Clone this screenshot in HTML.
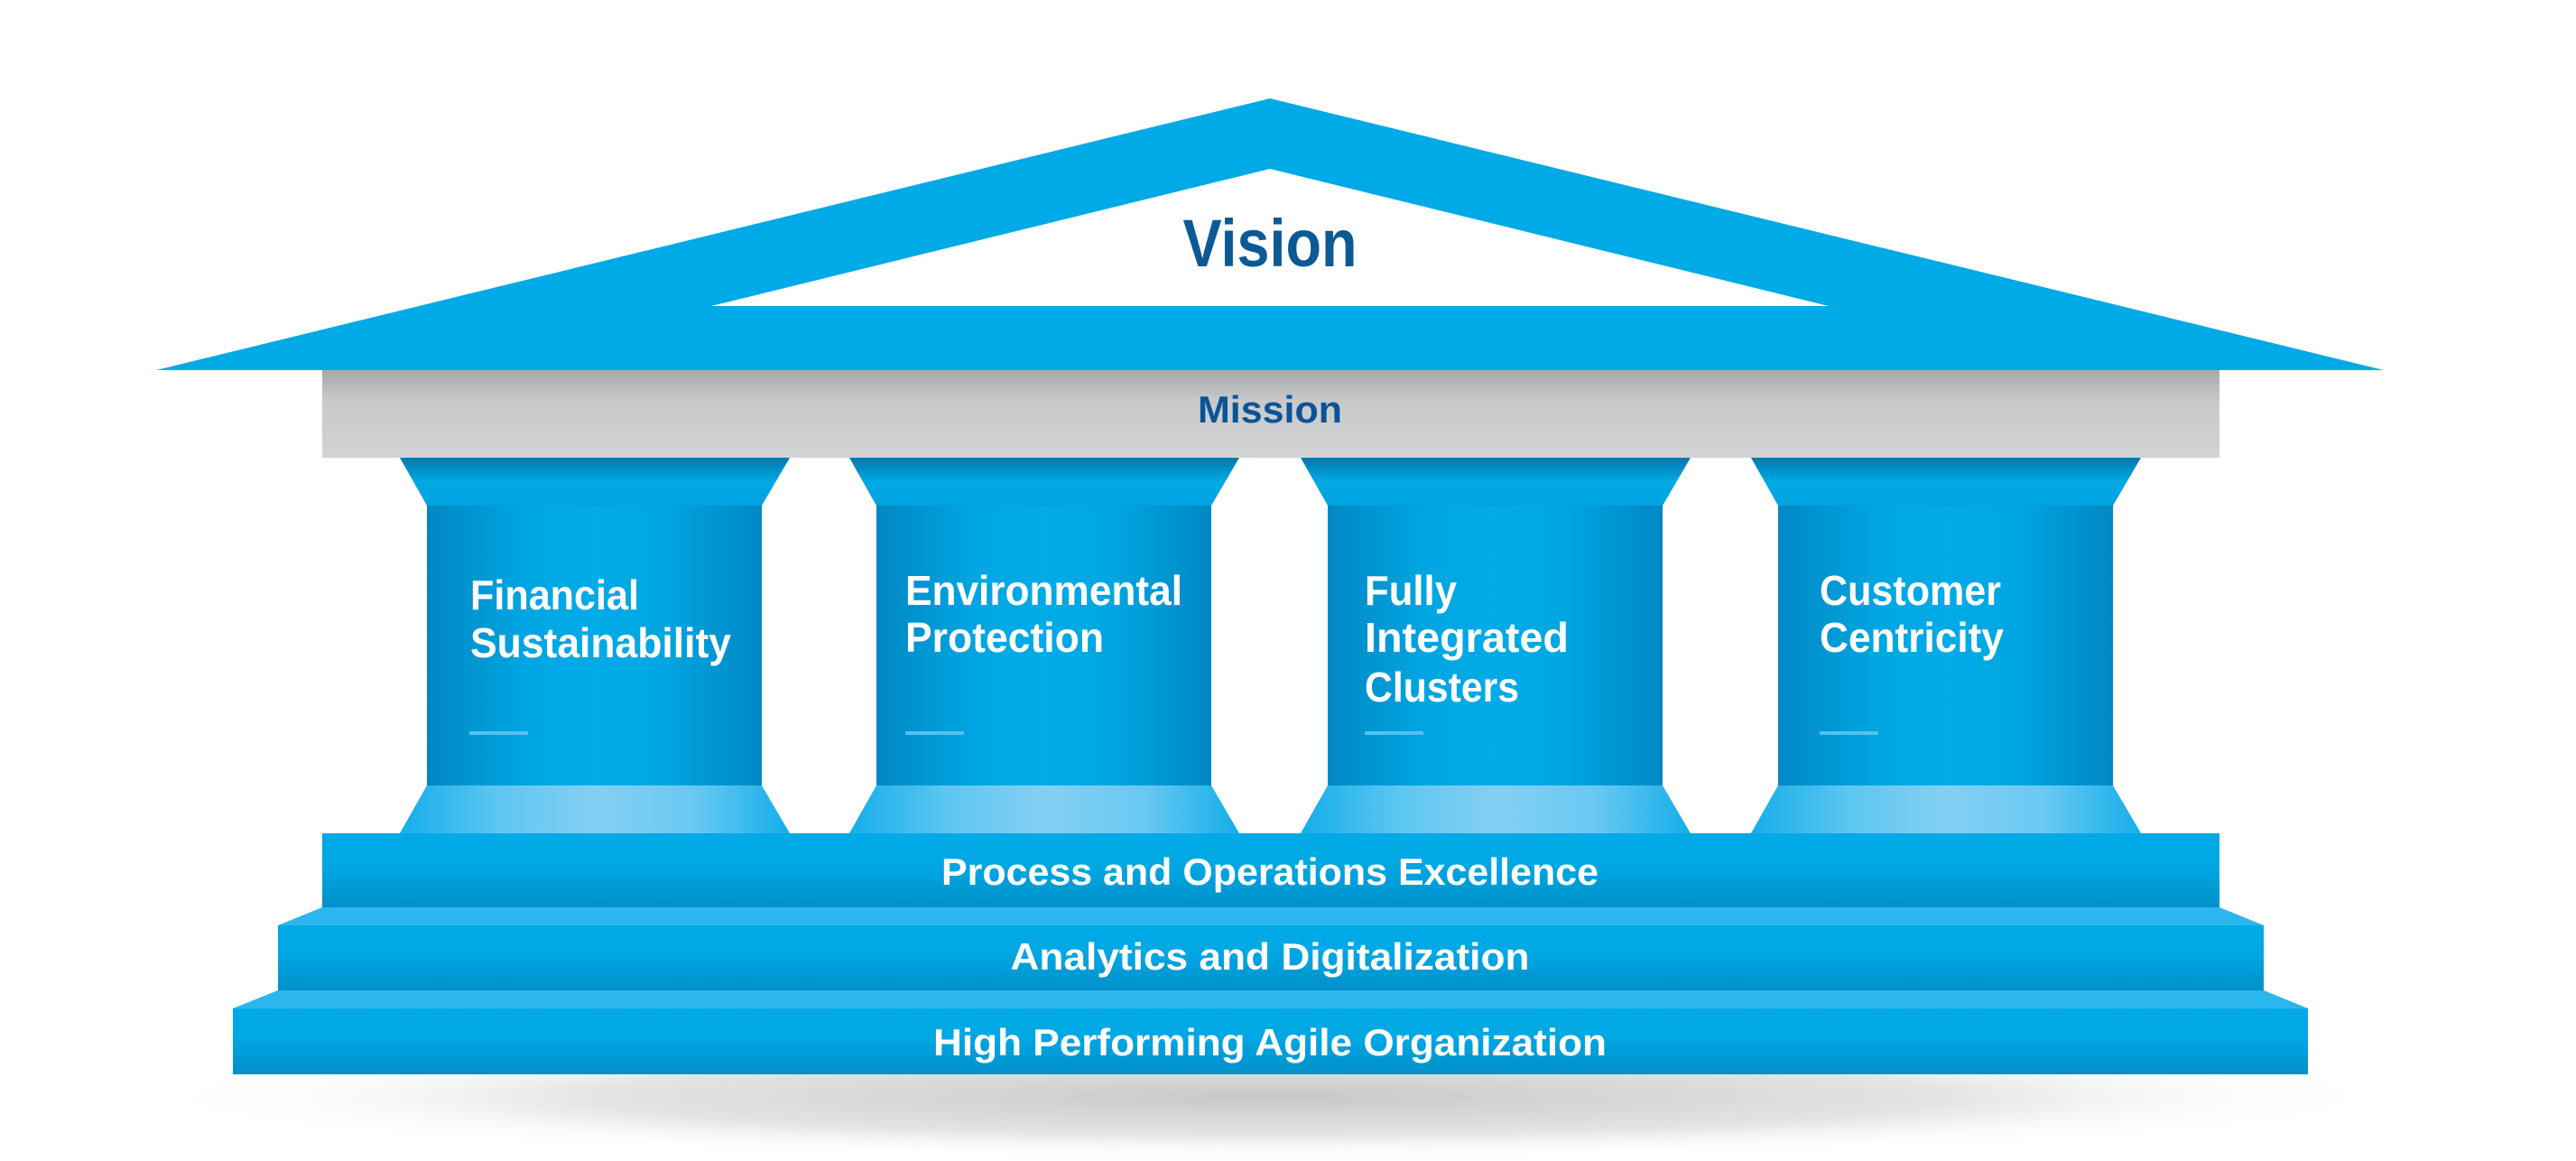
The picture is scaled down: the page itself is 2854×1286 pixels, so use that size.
<!DOCTYPE html>
<html><head><meta charset="utf-8"><style>
html,body{margin:0;padding:0;background:#fff;}
svg{display:block;}
text{font-family:"Liberation Sans",sans-serif;font-weight:bold;}
</style></head><body>
<svg width="2854" height="1286" viewBox="0 0 2854 1286" xmlns="http://www.w3.org/2000/svg">
<defs>
<linearGradient id="shaft" x1="0" x2="1" y1="0" y2="0">
<stop offset="0" stop-color="#0088c4"/><stop offset="0.3" stop-color="#00a6e2"/><stop offset="0.5" stop-color="#00abe7"/><stop offset="0.7" stop-color="#00a6e2"/><stop offset="1" stop-color="#0088c4"/>
</linearGradient>
<linearGradient id="cap" x1="0" x2="0" y1="0" y2="1">
<stop offset="0" stop-color="#0078ac"/><stop offset="0.5" stop-color="#00a8e4"/><stop offset="1" stop-color="#00a3df"/>
</linearGradient>
<linearGradient id="base" x1="0" x2="1" y1="0" y2="0">
<stop offset="0" stop-color="#14aee9"/><stop offset="0.25" stop-color="#5cc6f1"/><stop offset="0.5" stop-color="#85cff3"/><stop offset="0.75" stop-color="#6ac9f2"/><stop offset="1" stop-color="#14aee9"/>
</linearGradient>
<linearGradient id="mission" x1="0" x2="0" y1="0" y2="1">
<stop offset="0" stop-color="#a7a8aa"/><stop offset="0.35" stop-color="#c8c9cb"/><stop offset="1" stop-color="#d2d3d5"/>
</linearGradient>
<linearGradient id="step" x1="0" x2="0" y1="0" y2="1">
<stop offset="0" stop-color="#00aae6"/><stop offset="0.45" stop-color="#00a7e3"/><stop offset="1" stop-color="#008fc9"/>
</linearGradient>
<radialGradient id="shadow" cx="0.5" cy="0.5" r="0.5">
<stop offset="0" stop-color="#c8c8c8"/><stop offset="0.6" stop-color="#e4e4e4"/><stop offset="1" stop-color="#ffffff" stop-opacity="0"/>
</radialGradient>
</defs>

<!-- shadow -->
<ellipse cx="1407" cy="1215" rx="1250" ry="70" fill="url(#shadow)"/>

<!-- roof -->
<polygon points="173,410 1407,109 2641,410" fill="#00aae6"/>
<polygon points="788,339 1407,187 2026,339" fill="#ffffff"/>
<text x="1407" y="295" font-size="74" fill="#0b5a96" text-anchor="middle" textLength="193" lengthAdjust="spacingAndGlyphs">Vision</text>

<!-- mission -->
<rect x="357" y="410" width="2102" height="97" fill="url(#mission)"/>
<text x="1407" y="468" font-size="42" fill="#0b5394" text-anchor="middle" textLength="160" lengthAdjust="spacingAndGlyphs">Mission</text>

<!-- columns -->
<g id="col1">
<polygon points="443,507 875,507 844,560 473,560" fill="url(#cap)"/>
<rect x="473" y="560" width="371" height="310" fill="url(#shaft)"/>
<polygon points="473,870 844,870 875,923 443,923" fill="url(#base)"/>
</g>
<use href="#col1" x="498"/>
<use href="#col1" x="998"/>
<use href="#col1" x="1497"/>

<g fill="#ffffff" font-size="46">
<text x="521" y="675" textLength="187" lengthAdjust="spacingAndGlyphs">Financial</text>
<text x="521" y="728" textLength="289" lengthAdjust="spacingAndGlyphs">Sustainability</text>
<text x="1003" y="670" textLength="307" lengthAdjust="spacingAndGlyphs">Environmental</text>
<text x="1003" y="722" textLength="220" lengthAdjust="spacingAndGlyphs">Protection</text>
<text x="1512" y="670" textLength="102" lengthAdjust="spacingAndGlyphs">Fully</text>
<text x="1512" y="722" textLength="226" lengthAdjust="spacingAndGlyphs">Integrated</text>
<text x="1512" y="777" textLength="171" lengthAdjust="spacingAndGlyphs">Clusters</text>
<text x="2016" y="670" textLength="201" lengthAdjust="spacingAndGlyphs">Customer</text>
<text x="2016" y="722" textLength="204" lengthAdjust="spacingAndGlyphs">Centricity</text>
</g>
<g fill="#4fc3f0">
<rect x="520" y="810" width="65" height="4"/>
<rect x="1003" y="810" width="65" height="4"/>
<rect x="1512" y="810" width="65" height="4"/>
<rect x="2016" y="810" width="65" height="4"/>
</g>

<!-- steps -->
<rect x="357" y="923" width="2102" height="82" fill="url(#step)"/>
<polygon points="357,1005 2459,1005 2508,1025 308,1025" fill="#2bb7ed"/>
<rect x="308" y="1025" width="2200" height="72" fill="url(#step)"/>
<polygon points="308,1097 2508,1097 2557,1117 258,1117" fill="#2bb7ed"/>
<rect x="258" y="1117" width="2299" height="73" fill="url(#step)"/>

<g fill="#ffffff" font-size="42" text-anchor="middle">
<text x="1407" y="980" textLength="728" lengthAdjust="spacingAndGlyphs">Process and Operations Excellence</text>
<text x="1407" y="1074" textLength="575" lengthAdjust="spacingAndGlyphs">Analytics and Digitalization</text>
<text x="1407" y="1169" textLength="746" lengthAdjust="spacingAndGlyphs">High Performing Agile Organization</text>
</g>
</svg>
</body></html>
